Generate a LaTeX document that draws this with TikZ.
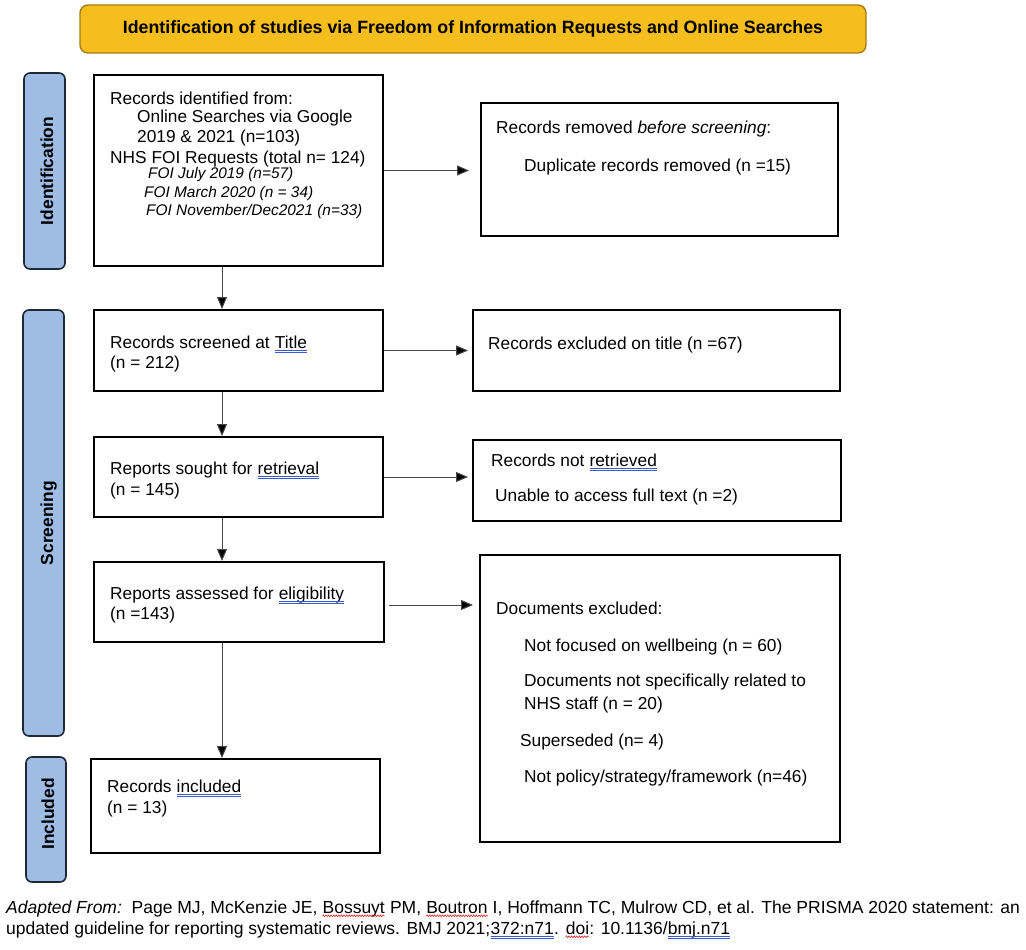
\documentclass[tikz,border=0pt]{standalone}
\usepackage{fontspec}
\setmainfont{Liberation Sans}
\usetikzlibrary{arrows.meta,decorations.pathmorphing,fit}
\definecolor{hdrfill}{RGB}{245,190,28}
\definecolor{hdrline}{RGB}{165,125,20}
\definecolor{lblfill}{RGB}{158,188,228}
\definecolor{lblline}{RGB}{30,40,55}
\definecolor{ulblue}{RGB}{60,90,200}
\definecolor{ulred}{RGB}{220,40,40}
\definecolor{arrline}{RGB}{70,70,70}
\newcommand\blueul[1]{\tikz[baseline=(w.base)]{\node[inner sep=0pt,outer sep=0pt,anchor=base](w){#1};\draw[ulblue,line width=0.6pt]([yshift=-2.2pt]w.base west)--([yshift=-2.2pt]w.base east) ([yshift=-3.9pt]w.base west)--([yshift=-3.9pt]w.base east);}}
\newcommand\redul[1]{\tikz[baseline=(w.base)]{\node[inner sep=0pt,outer sep=0pt,anchor=base](w){#1};\draw[ulred,line width=0.6pt,decorate,decoration={zigzag,amplitude=0.9pt,segment length=2.6pt}]([yshift=-2.8pt]w.base west)--([yshift=-2.8pt]w.base east);}}
\begin{document}
\begin{tikzpicture}[x=1pt,y=-1pt,
  box/.style={draw=black,line width=1.9pt,rectangle,inner sep=0pt},
  lbl/.style={draw=lblline,fill=lblfill,line width=1.6pt,rounded corners=6pt,rectangle,inner sep=0pt},
  hdr/.style={draw=hdrline,fill=hdrfill,line width=1.4pt,rounded corners=8pt,rectangle,inner sep=0pt},
  txt/.style={anchor=base west,inner sep=0pt,font=\fontsize{17.3}{20}\selectfont},
  small/.style={anchor=base west,inner sep=0pt,font=\fontsize{15.4}{18}\selectfont\itshape},
  foot/.style={anchor=base west,inner sep=0pt,font=\fontsize{17.5}{20}\selectfont},
  side/.style={anchor=base,rotate=90,inner sep=0pt,font=\bfseries\fontsize{17.4}{20}\selectfont},
  arr/.style={draw=arrline,line width=1pt,-{Triangle[length=12pt,width=10pt,fill=black]}}
]
\useasboundingbox (0,0) rectangle (1026,950);
% header
\node[hdr,fit={(80,5) (866,53)}] (hdr) {};
\node[anchor=base,inner sep=0pt,font=\bfseries\fontsize{17.8}{20}\selectfont] (hdrt) at (473,34) {Identification of studies via Freedom of Information Requests and Online Searches};
% side labels
\node[lbl,fit={(24,73) (65,269)}] (L1) {};
\node[side] (L1t) at (53,171) {Identification};
\node[lbl,fit={(23,310) (64,736)}] (L2) {};
\node[side] (L2t) at (53,523) {Screening};
\node[lbl,fit={(26,757) (66,882)}] (L3) {};
\node[side] (L3t) at (54,814) {Included};
% boxes
\node[box,fit={(94,75) (383,266)}] (b1) {};
\node[box,fit={(481,103) (838,236)}] (b2) {};
\node[box,fit={(94,310) (383,391)}] (b3) {};
\node[box,fit={(473,310) (840,391)}] (b4) {};
\node[box,fit={(94,437) (383,517)}] (b5) {};
\node[box,fit={(473,440) (841,521)}] (b6) {};
\node[box,fit={(94,562) (384,642)}] (b7) {};
\node[box,fit={(480,555) (840,842)}] (b8) {};
\node[box,fit={(91,759) (380,853)}] (b9) {};
% box texts
\node[txt] (t1a) at (110,104) {Records identified from:};
\node[txt] (t1b) at (137,122) {Online Searches via Google};
\node[txt] (t1c) at (137,142) {2019 \& 2021 (n=103)};
\node[txt] (t1d) at (110,163) {NHS FOI Requests (total n= 124)};
\node[small] (t1e) at (148,178.5) {FOI July 2019 (n=57)};
\node[small] (t1f) at (144,197.5) {FOI March 2020 (n = 34)};
\node[small] (t1g) at (146,215.5) {FOI November/Dec2021 (n=33)};
\node[txt] (t2a) at (496,133) {Records removed \textit{before screening}:};
\node[txt] (t2b) at (524,171) {Duplicate records removed (n =15)};
\node[txt] (t3a) at (110,348) {Records screened at \blueul{Title}};
\node[txt] (t3b) at (110,368) {(n = 212)};
\node[txt] (t4a) at (488,349) {Records excluded on title (n =67)};
\node[txt] (t5a) at (110,474) {Reports sought for \blueul{retrieval}};
\node[txt] (t5b) at (110,495) {(n = 145)};
\node[txt] (t6a) at (491,466) {Records not \blueul{retrieved}};
\node[txt] (t6b) at (495,501) {Unable to access full text (n =2)};
\node[txt] (t7a) at (110,599) {Reports assessed for \blueul{eligibility}};
\node[txt] (t7b) at (110,619) {(n =143)};
\node[txt] (t8a) at (496,614) {Documents excluded:};
\node[txt] (t8b) at (524,651) {Not focused on wellbeing (n = 60)};
\node[txt] (t8c) at (524,686) {Documents not specifically related to};
\node[txt] (t8d) at (524,709) {NHS staff (n = 20)};
\node[txt] (t8e) at (520,746) {Superseded (n= 4)};
\node[txt] (t8f) at (524,782) {Not policy/strategy/framework (n=46)};
\node[txt] (t9a) at (107,792) {Records \blueul{included}};
\node[txt] (t9b) at (107,813) {(n = 13)};
% connectors
\coordinate (vx) at (222,0);
\draw[arr] (b1.south -| vx) -- (b3.north -| vx);
\draw[arr] (b3.south -| vx) -- (b5.north -| vx);
\draw[arr] (b5.south -| vx) -- (b7.north -| vx);
\draw[arr] (b7.south -| vx) -- (b9.north -| vx);
\draw[arr,shorten >=11pt] (b1.east) -- (b1.east -| b2.west);
\draw[arr,shorten >=4pt] (b3.east) -- (b3.east -| b4.west);
\draw[arr,shorten >=4pt] (b5.east) -- (b5.east -| b6.west);
\coordinate (h7) at (0,605);
\draw[arr,shorten <=4pt,shorten >=6pt] (b7.east |- h7) -- (b8.west |- h7);
% footer
\node[foot] (f1) at (6,913) {\textit{Adapted From:}\ \ Page MJ, McKenzie JE, \redul{Bossuyt} PM, \redul{Boutron} I, Hoffmann TC, Mulrow CD, et al. The PRISMA 2020 statement: an};
\node[foot] (f2) at (6,934) {updated guideline for reporting systematic reviews. BMJ 2021;\blueul{372:n71}. \redul{doi}: 10.1136/\blueul{bmj.n71}};
\end{tikzpicture}
\end{document}
